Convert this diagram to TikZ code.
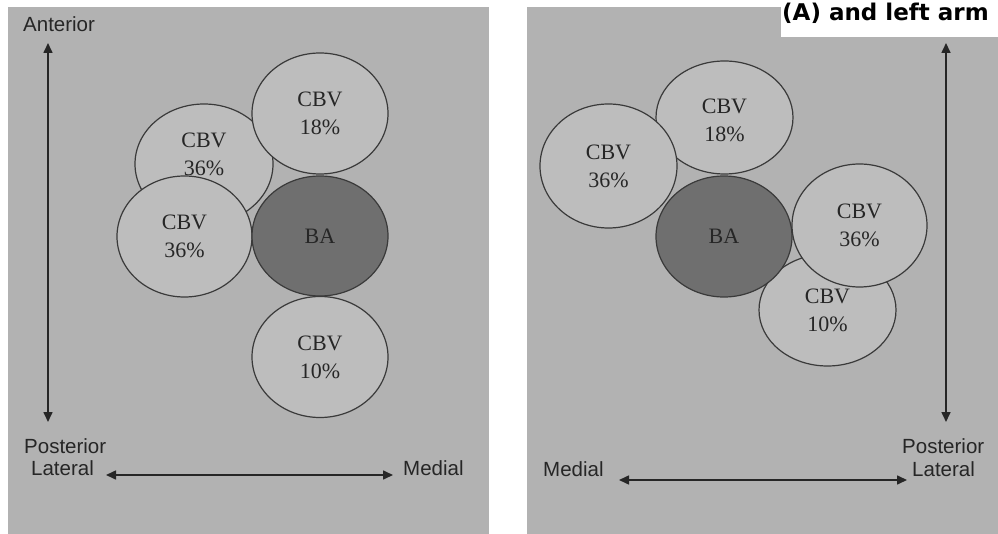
\documentclass[tikz,border=0pt]{standalone}
\usepackage{xcolor}
\usepackage{fontspec}
\setmainfont{Liberation Serif}
\newfontfamily\axisfont{Liberation Sans}
\newfontfamily\capfont{DejaVu Sans}
\usetikzlibrary{shapes.geometric, arrows.meta}

\definecolor{panelgray}{HTML}{B2B2B2}
\definecolor{vesselgray}{HTML}{BDBDBD}
\definecolor{arterygray}{HTML}{6F6F6F}
\definecolor{linegray}{HTML}{3A3A3A}
\definecolor{textgray}{HTML}{262626}

\begin{document}
\begin{tikzpicture}[x = 1pt, y = -1pt,
  vessel/.style = {ellipse, draw = linegray, line width = 1.2pt, fill = vesselgray,
    inner sep = 0pt, align = center, text = textgray,
    font = \fontsize{22}{28}\selectfont},
  artery/.style = {vessel, fill = arterygray},
  vesseltext/.style = {inner sep = 0pt, align = center, text = textgray,
    font = \fontsize{22}{28}\selectfont},
  axisarrow/.style = {{Triangle[length=10pt,width=9pt]}-{Triangle[length=10pt,width=9pt]},
    line width = 1.6pt, draw = textgray},
  dirlabel/.style = {anchor = west, inner sep = 0pt, text = textgray,
    font = \axisfont\fontsize{20.5}{22}\selectfont}]

  \useasboundingbox (0,0) rectangle (998,534);

  % Draw panels
  \fill[panelgray] (8,7) rectangle (489,534);
  \fill[panelgray] (527,7) rectangle (998,534);
  \fill[white] (781,0) rectangle (998,37);
  \node[anchor = base west, inner sep = 0pt, font = \capfont\bfseries\fontsize{23}{25}\selectfont]
    (caption) at (782,21) {(A) and left arm};

  % Left panel vessels
  \node[vessel, minimum width = 138pt, minimum height = 120pt] (LcbvA) at (204,164) {};
  \node[vesseltext, yshift = 10pt] (LcbvAtext) at (LcbvA) {CBV\\36\%};
  \node[vessel, minimum width = 136pt, minimum height = 121pt] (LcbvB) at (320,113.5) {CBV\\18\%};
  \node[vessel, minimum width = 135pt, minimum height = 121pt] (LcbvC) at (184.5,236.5) {CBV\\36\%};
  \node[artery, minimum width = 136pt, minimum height = 120pt] (Lba) at (320,236) {BA};
  \node[vessel, minimum width = 136pt, minimum height = 121pt] (LcbvD) at (320,357) {CBV\\10\%};

  % Right panel vessels
  \node[vessel, minimum width = 137pt, minimum height = 113pt] (RcbvB) at (724.5,117.5) {};
  \node[vesseltext, yshift = -3pt] (RcbvBtext) at (RcbvB) {CBV\\18\%};
  \node[vessel, minimum width = 137pt, minimum height = 124pt] (RcbvA) at (608.5,166) {CBV\\36\%};
  \node[vessel, minimum width = 137pt, minimum height = 112pt] (RcbvD) at (827.5,310) {CBV\\10\%};
  \node[artery, minimum width = 136pt, minimum height = 121pt] (Rba) at (724,236.5) {BA};
  \node[vessel, minimum width = 135pt, minimum height = 123pt] (RcbvC) at (859.5,225.5) {CBV\\36\%};

  % Label the axes
  \node[dirlabel] (Lant) at (23,24) {Anterior};
  \node[dirlabel] (Lpost) at (24,446) {Posterior};
  \node[dirlabel] (Llat) at (31,468) {Lateral};
  \node[dirlabel] (Lmed) at (403,468) {Medial};
  \node[dirlabel] (Rmed) at (543,469) {Medial};
  \node[dirlabel] (Rpost) at (902,446) {Posterior};
  \node[dirlabel] (Rlat) at (912,469) {Lateral};

  % Draw axis arrows
  \coordinate (LvTop) at (48,43);
  \coordinate (LvBot) at (48,422);
  \coordinate (LhLeft) at (106,475);
  \coordinate (LhRight) at (393,475);
  \coordinate (RvTop) at (946,43);
  \coordinate (RvBot) at (946,422);
  \coordinate (RhLeft) at (619,480);
  \coordinate (RhRight) at (907,480);
  \draw[axisarrow] (LvTop) -- (LvBot);
  \draw[axisarrow] (LhLeft) -- (LhRight);
  \draw[axisarrow] (RvTop) -- (RvBot);
  \draw[axisarrow] (RhLeft) -- (RhRight);

\end{tikzpicture}
\end{document}
